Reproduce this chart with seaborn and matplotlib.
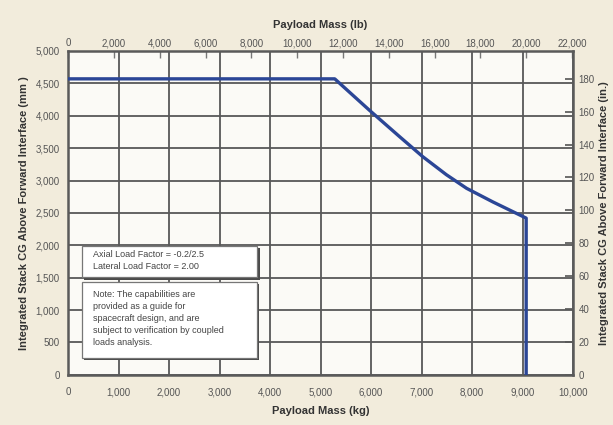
import matplotlib
matplotlib.use("Agg")
import matplotlib.pyplot as plt
import matplotlib.transforms as mtransforms
from matplotlib.patches import Rectangle
from matplotlib.ticker import FuncFormatter
import pandas as pd
import seaborn as sns

# Payload mass vs. allowable stack CG height (envelope)
mass_kg = [0, 5280, 5960, 6560, 7020, 7490, 7890, 8410, 9070, 9070]
cg_mm = [4570, 4570, 4090, 3680, 3370, 3090, 2880, 2670, 2420, 0]

kg_ticks = [0, 1000, 2000, 3000, 4000, 5000, 6000, 7000, 8000, 9000, 10000]
mm_ticks = [0, 500, 1000, 1500, 2000, 2500, 3000, 3500, 4000, 4500, 5000]
lb_ticks = [0, 2000, 4000, 6000, 8000, 10000, 12000, 14000, 16000, 18000, 20000, 22000]
in_ticks = [0, 20, 40, 60, 80, 100, 120, 140, 160, 180]

load_note = "Axial Load Factor = -0.2/2.5\nLateral Load Factor = 2.00"
caveat_note = ("Note: The capabilities are\nprovided as a guide for\n"
               "spacecraft design, and are\nsubject to verification by coupled\n"
               "loads analysis.")

KG_PER_LB = 0.45359237
MM_PER_IN = 25.4

sns.set_theme(style="white")
plt.rcParams["font.family"] = ["Liberation Sans", "DejaVu Sans"]

BG = "#f2ecdc"
GRID = "#585858"
SPINE = "#5a5a5a"
TICKTXT = "#555555"
LABEL = "#333333"

fig = plt.figure(figsize=(6.13, 4.25), dpi=100, facecolor=BG)
ax = fig.add_axes([0.111, 0.118, 0.824, 0.762])
ax.set_facecolor("#fbfaf6")

df = pd.DataFrame({"mass": mass_kg, "cg": cg_mm})
sns.lineplot(data=df, x="mass", y="cg", sort=False, estimator=None,
             color="#2b4696", linewidth=2.4, ax=ax, zorder=5)

ax.set_xlim(0, 10000)
ax.set_ylim(0, 5000)
ax.set_xticks(kg_ticks)
ax.set_yticks(mm_ticks)
thousands = FuncFormatter(lambda v, p: f"{int(round(v)):,}")
ax.xaxis.set_major_formatter(thousands)
ax.yaxis.set_major_formatter(thousands)
ax.grid(True, color=GRID, linewidth=1.3)
ax.set_axisbelow(True)
ax.tick_params(axis="x", length=0, pad=9, labelsize=7, labelcolor=TICKTXT)
ax.tick_params(axis="y", length=0, pad=6, labelsize=7, labelcolor=TICKTXT)
for s in ax.spines.values():
    s.set_visible(True)
    s.set_color(SPINE)
    s.set_linewidth(1.8)

ax.set_xlabel("Payload Mass (kg)", fontsize=8, fontweight="bold", color=LABEL, labelpad=6)
ax.set_ylabel("Integrated Stack CG Above Forward Interface (mm )", fontsize=8,
              fontweight="bold", color=LABEL, labelpad=5)

# Imperial companion axes
top = ax.secondary_xaxis("top", functions=(lambda k: k / KG_PER_LB, lambda l: l * KG_PER_LB))
top.set_xticks(lb_ticks)
top.xaxis.set_major_formatter(thousands)
top.tick_params(direction="in", length=5, width=1, color="#777777", pad=2,
                labelsize=7, labelcolor=TICKTXT)
top.set_xlabel("Payload Mass (lb)", fontsize=8, fontweight="bold", color=LABEL, labelpad=7)
top.spines["top"].set_visible(False)

right = ax.secondary_yaxis("right", functions=(lambda m: m / MM_PER_IN, lambda i: i * MM_PER_IN))
right.set_yticks(in_ticks)
right.tick_params(direction="in", length=6, width=1.2, color="#555555", pad=4,
                  labelsize=7, labelcolor=TICKTXT)
right.set_ylabel("Integrated Stack CG Above Forward Interface (in.)", fontsize=8,
                 fontweight="bold", color=LABEL, labelpad=3)
right.spines["right"].set_visible(False)

# Annotation boxes with drop shadows
shadow = mtransforms.offset_copy(ax.transData, fig=fig, x=2.5, y=-2.5, units="dots")
for (x0, y0, x1, y1) in [(270, 1510, 3750, 1990), (270, 262, 3740, 1435)]:
    ax.add_patch(Rectangle((x0, y0), x1 - x0, y1 - y0, transform=shadow,
                           facecolor="#4a4a4a", edgecolor="none", zorder=6))
    ax.add_patch(Rectangle((x0, y0), x1 - x0, y1 - y0, facecolor="white",
                           edgecolor="#777777", linewidth=0.9, zorder=7))

ax.text(490, 1760, load_note, fontsize=6.5, color="#444444", va="center",
        ha="left", linespacing=1.45, zorder=8)
ax.text(490, 1315, caveat_note, fontsize=6.5, color="#444444", va="top",
        ha="left", linespacing=1.45, zorder=8)

fig.savefig("out.png", dpi=100, facecolor=BG)
